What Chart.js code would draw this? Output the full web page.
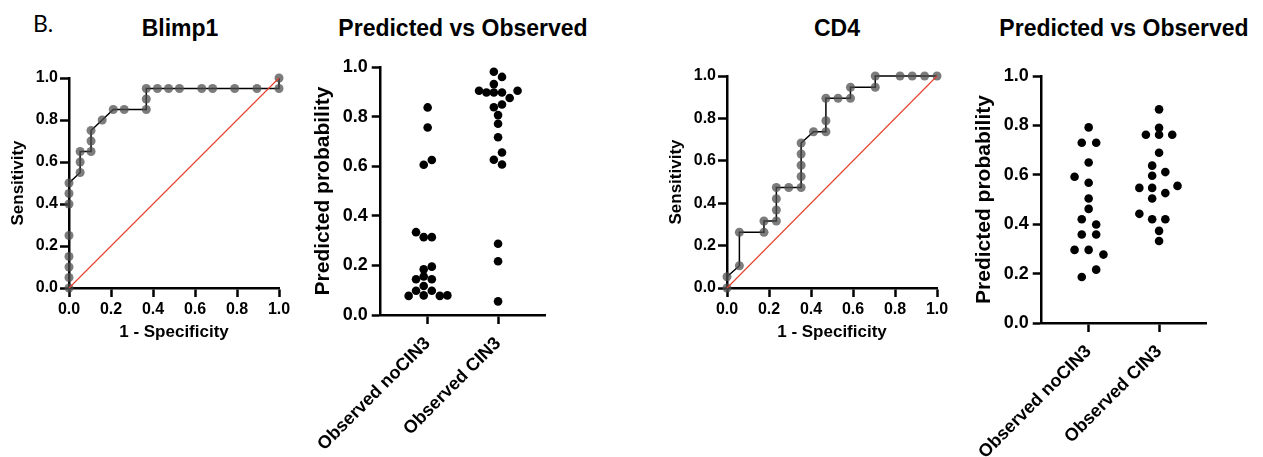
<!DOCTYPE html>
<html>
<head>
<meta charset="utf-8">
<script src="https://cdn.jsdelivr.net/npm/chart.js@4.4.1/dist/chart.umd.min.js"></script>
<style>
  html, body { margin: 0; padding: 0; background: #fff; width: 1263px; height: 457px; overflow: hidden; }
  body { position: relative; }
  canvas { position: absolute; top: 0; }
  .title { position: absolute; top: 17px; font: bold 23px/23px "Liberation Sans", Arial, sans-serif; white-space: nowrap; transform: translateX(-50%); color: #000; }
  .panel-label { position: absolute; left: 33px; top: 12px; font: 23px/22px Lato, "Open Sans", sans-serif; color: #000; }
</style>
</head>
<body>
<div class="panel-label">B.</div>
<div class="title" style="left:180px">Blimp1</div>
<div class="title" style="left:463px">Predicted vs Observed</div>
<div class="title" style="left:837px">CD4</div>
<div class="title" style="left:1124px">Predicted vs Observed</div>

<canvas id="rocBlimp" width="300" height="350" style="left:0px"></canvas>
<canvas id="dotBlimp" width="315" height="457" style="left:285px"></canvas>
<canvas id="rocCd4" width="300" height="350" style="left:658px"></canvas>
<canvas id="dotCd4" width="315" height="457" style="left:946px"></canvas>

<script>
// ---- data ----
const axisTicks = [0, 0.2, 0.4, 0.6, 0.8, 1.0];
const groupLabels = ['Observed noCIN3', 'Observed CIN3'];

// chance line
const diagX = [0, 1];
const diagY = [0, 1];

// Blimp1 ROC (1 - specificity, sensitivity)
const blimpFpr = [0, 0, 0, 0, 0, 0, 0, 0, 0.053, 0.053, 0.053, 0.105, 0.105, 0.105, 0.158, 0.211, 0.263,
                  0.368, 0.368, 0.368, 0.421, 0.474, 0.526, 0.632, 0.684, 0.789, 0.895, 1, 1];
const blimpTpr = [0, 0.05, 0.10, 0.15, 0.25, 0.40, 0.45, 0.50, 0.55, 0.60, 0.65, 0.65, 0.70, 0.75, 0.80, 0.85, 0.85,
                  0.85, 0.90, 0.95, 0.95, 0.95, 0.95, 0.95, 0.95, 0.95, 0.95, 0.95, 1.0];

// CD4 ROC
const cd4Fpr = [0, 0, 0.059, 0.059, 0.176, 0.176, 0.235, 0.235, 0.235, 0.235, 0.294, 0.353, 0.353, 0.353, 0.353,
                0.353, 0.412, 0.471, 0.471, 0.471, 0.529, 0.588, 0.588, 0.706, 0.706, 0.824, 0.882, 0.941, 1];
const cd4Tpr = [0, 0.053, 0.105, 0.263, 0.263, 0.316, 0.316, 0.368, 0.421, 0.474, 0.474, 0.474, 0.526, 0.579, 0.632,
                0.684, 0.737, 0.737, 0.789, 0.895, 0.895, 0.895, 0.947, 0.947, 1, 1, 1, 1, 1];

// Blimp1 predicted probability, with horizontal jitter of each dot
const blimpNoCin3 = [0.837, 0.756, 0.606, 0.625, 0.334, 0.314, 0.314, 0.184, 0.195, 0.144, 0.155, 0.144, 0.117,
                     0.098, 0.079, 0.098, 0.077, 0.077, 0.079];
const blimpNoCin3Jitter = [0, 0, -0.056, 0.059, -0.165, -0.056, 0.059, -0.056, 0.059, -0.165, -0.056, 0.059, -0.056,
                           -0.165, -0.056, 0.059, -0.27, 0.173, 0.28];
const blimpCin3 = [0.981, 0.960, 0.931, 0.904, 0.897, 0.897, 0.897, 0.904, 0.875, 0.838, 0.849, 0.806, 0.771,
                   0.717, 0.626, 0.655, 0.607, 0.287, 0.217, 0.055];
const blimpCin3Jitter = [-0.06, 0.056, -0.06, -0.27, -0.165, -0.06, 0.056, 0.277, 0.165, -0.06, 0.056, 0, 0,
                         0, -0.06, 0.056, 0.056, 0, 0, 0];

// CD4 predicted probability
const cd4NoCin3 = [0.792, 0.730, 0.730, 0.650, 0.592, 0.568, 0.504, 0.462, 0.420, 0.399, 0.358, 0.358, 0.296,
                   0.296, 0.277, 0.216, 0.186];
const cd4NoCin3Jitter = [0, -0.098, 0.107, 0, -0.2, 0, 0, 0, -0.098, 0.107, -0.098, 0.107, -0.2,
                         0, 0.21, 0.107, -0.098];
const cd4Cin3 = [0.865, 0.790, 0.762, 0.762, 0.762, 0.689, 0.637, 0.596, 0.611, 0.547, 0.547, 0.555, 0.526,
                 0.504, 0.442, 0.420, 0.420, 0.373, 0.332];
const cd4Cin3Jitter = [0, 0, -0.187, 0, 0.187, 0, -0.098, -0.098, 0.089, -0.28, -0.098, 0.262, 0.089,
                       -0.098, -0.28, -0.098, 0.089, 0, 0];

// ---- charts ----
Chart.defaults.font.family = '"Liberation Sans", Arial, sans-serif';
Chart.defaults.font.weight = 'bold';
Chart.defaults.color = '#000';

const toPoints = (xs, ys) => xs.map((x, i) => ({ x, y: ys[i] }));

function axisLines() {
    return {
        border: { display: true, color: '#000', width: 2.5 },
        grid: { display: true, drawOnChartArea: false, drawTicks: true, tickLength: 9, tickWidth: 2.5, tickColor: '#000' },
    };
}

function rocChart(id, fpr, tpr, top) {
    return new Chart(document.getElementById(id), {
        type: 'scatter',
        data: {
            datasets: [
                {
                    data: toPoints(diagX, diagY),
                    showLine: true,
                    borderColor: '#e4402a',
                    borderWidth: 1.1,
                    pointRadius: 0,
                    clip: false,
                },
                {
                    data: toPoints(fpr, tpr),
                    showLine: true,
                    borderColor: '#000',
                    borderWidth: 1.5,
                    pointRadius: 4.5,
                    pointBorderWidth: 0,
                    pointBackgroundColor: 'rgba(78,78,78,0.74)',
                    clip: false,
                }
            ]
        },
        options: {
            responsive: false,
            devicePixelRatio: 1,
            animation: false,
            layout: { padding: { left: 0, top: top, right: 21, bottom: 0 } },
            plugins: { legend: { display: false }, tooltip: { enabled: false } },
            scales: {
                x: {
                    type: 'linear', min: 0, max: 1,
                    afterBuildTicks: (s) => { s.ticks = axisTicks.map(v => ({ value: v })); },
                    afterFit: (s) => { s.height = 62; },
                    ticks: { font: { size: 16 }, padding: 3, maxRotation: 0, autoSkip: false, callback: (v) => v.toFixed(1) },
                    title: { display: true, text: '1 - Specificity', font: { size: 17 }, padding: 7 },
                    ...axisLines(),
                },
                y: {
                    type: 'linear', min: 0, max: 1,
                    afterBuildTicks: (s) => { s.ticks = axisTicks.map(v => ({ value: v })); },
                    afterFit: (s) => { s.width = 69; },
                    ticks: { font: { size: 16 }, padding: 2, autoSkip: false, callback: (v) => v.toFixed(1) },
                    title: { display: true, text: 'Sensitivity', font: { size: 17 }, padding: 8 },
                    ...axisLines(),
                }
            }
        }
    });
}

function dotChart(id, noY, noJ, cinY, cinJ, top, xHeight) {
    const dot = { pointRadius: 4.3, pointBorderWidth: 0, pointBackgroundColor: '#000', clip: false };
    return new Chart(document.getElementById(id), {
        type: 'scatter',
        data: {
            datasets: [
                { data: toPoints(noJ.map(j => 1 + j), noY), ...dot },
                { data: toPoints(cinJ.map(j => 2 + j), cinY), ...dot },
            ]
        },
        options: {
            responsive: false,
            devicePixelRatio: 1,
            animation: false,
            // extra left room so the rotated labels do not push the plot area
            layout: { padding: { left: 15, top: top, right: 55, bottom: 0 } },
            plugins: { legend: { display: false }, tooltip: { enabled: false } },
            scales: {
                x: {
                    type: 'linear', min: 1 / 3, max: 8 / 3,
                    afterBuildTicks: (s) => { s.ticks = groupLabels.map((_, i) => ({ value: i + 1 })); },
                    afterFit: (s) => { s.height = xHeight; },
                    ticks: {
                        font: { size: 18 }, padding: 9, autoSkip: false, minRotation: 45, maxRotation: 45,
                        callback: (v) => groupLabels[v - 1],
                    },
                    ...axisLines(),
                },
                y: {
                    type: 'linear', min: 0, max: 1,
                    afterBuildTicks: (s) => { s.ticks = axisTicks.map(v => ({ value: v })); },
                    afterFit: (s) => { s.width = 79; },
                    ticks: { font: { size: 18 }, padding: 4, autoSkip: false, callback: (v) => v.toFixed(1) },
                    title: { display: true, text: 'Predicted probability', font: { size: 21 }, padding: 9 },
                    ...axisLines(),
                }
            }
        }
    });
}

rocChart('rocBlimp', blimpFpr, blimpTpr, 78);
dotChart('dotBlimp', blimpNoCin3, blimpNoCin3Jitter, blimpCin3, blimpCin3Jitter, 67, 142);
rocChart('rocCd4', cd4Fpr, cd4Tpr, 76);
dotChart('dotCd4', cd4NoCin3, cd4NoCin3Jitter, cd4Cin3, cd4Cin3Jitter, 76, 134);
</script>
</body>
</html>
